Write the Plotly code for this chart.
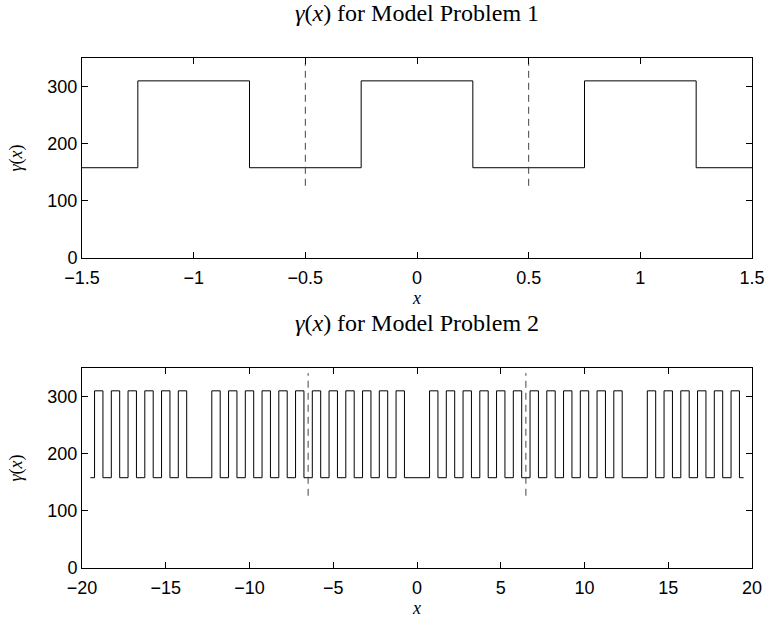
import plotly.graph_objects as go
from plotly.subplots import make_subplots

# ---- data ----
gamma_low = 158
gamma_high = 310

# Model problem 1: step breakpoints and level held from each breakpoint
x1_break = [-1.5, -1.25, -0.75, -0.25, 0.25, 0.75, 1.25, 1.5]
y1_level = [158, 310, 158, 310, 158, 310, 158, 158]
dash1_x = [-0.5, 0.5]

# Model problem 2: centres of the high pulses (width 0.5), domain ends
pulse_centres = [-19, -18, -17, -16, -15, -14,
                 -12, -11, -10, -9, -8, -7, -6, -5, -4, -3, -2, -1,
                 1, 2, 3, 4, 5, 6, 7, 8, 9, 10, 11, 12,
                 14, 15, 16, 17, 18, 19]
pulse_half_width = 0.25
x2_ends = [-19.5, 19.5]
dash2_x = [-6.5, 6.5]
dash_y = [126.4, 341]

x1_ticks = [-1.5, -1, -0.5, 0, 0.5, 1, 1.5]
x1_ticklabels = ["\u22121.5", "\u22121", "\u22120.5", "0", "0.5", "1", "1.5"]
x2_ticks = [-20, -15, -10, -5, 0, 5, 10, 15, 20]
x2_ticklabels = ["\u221220", "\u221215", "\u221210", "\u22125", "0", "5", "10", "15", "20"]
y_ticks = [0, 100, 200, 300]
y_range = [0, 350]

# build step path for problem 2
x2 = [x2_ends[0]]
y2 = [gamma_low]
for c in pulse_centres:
    x2 += [c - pulse_half_width, c + pulse_half_width]
    y2 += [gamma_high, gamma_low]
x2.append(x2_ends[1])
y2.append(gamma_low)

fig = make_subplots(rows=2, cols=1)

fig.add_trace(go.Scatter(x=x1_break, y=y1_level, mode="lines", line_shape="hv",
                         line=dict(color="black", width=1), showlegend=False), row=1, col=1)
for xd in dash1_x:
    fig.add_trace(go.Scatter(x=[xd, xd], y=dash_y, mode="lines",
                             line=dict(color="#444444", width=1, dash="7px,5px"),
                             showlegend=False), row=1, col=1)

fig.add_trace(go.Scatter(x=x2, y=y2, mode="lines", line_shape="hv",
                         line=dict(color="black", width=1), showlegend=False), row=2, col=1)
for xd in dash2_x:
    fig.add_trace(go.Scatter(x=[xd, xd], y=dash_y, mode="lines",
                             line=dict(color="#444444", width=1, dash="7px,5px"),
                             showlegend=False), row=2, col=1)

tickfont = dict(family="Liberation Sans, Arial, sans-serif", size=18, color="black")
axis_common = dict(showline=True, linecolor="black", linewidth=1, mirror="ticks",
                   ticks="inside", ticklen=6, tickcolor="black", showgrid=False,
                   zeroline=False, tickfont=tickfont)

fig.update_xaxes(range=[-1.5, 1.5], tickvals=x1_ticks, ticktext=x1_ticklabels,
                 row=1, col=1, **axis_common)
fig.update_xaxes(range=[-20, 20], tickvals=x2_ticks, ticktext=x2_ticklabels,
                 row=2, col=1, **axis_common)
for r in (1, 2):
    fig.update_yaxes(range=y_range, tickvals=y_ticks, row=r, col=1, **axis_common)
    fig.update_xaxes(ticklabelstandoff=3,
                     title=dict(text="<i>x</i>", standoff=2,
                                font=dict(family="Liberation Serif, serif", size=18, color="black")),
                     row=r, col=1)
    fig.update_yaxes(title=dict(text="<i>\u03b3</i>(<i>x</i>)", standoff=20,
                                font=dict(family="Liberation Serif, serif", size=18, color="black")),
                     row=r, col=1)

top_dom = [0.6078, 1.0]
bot_dom = [0.0, 0.3922]
fig.update_layout(yaxis=dict(domain=top_dom), yaxis2=dict(domain=bot_dom))

titlefont = dict(family="Liberation Serif, serif", size=24, color="black")
fig.add_annotation(text="<i>\u03b3</i>(<i>x</i>) for Model Problem 1", xref="paper", yref="paper",
                   x=0.5, y=top_dom[1], yshift=45, xanchor="center", yanchor="middle",
                   showarrow=False, font=titlefont)
fig.add_annotation(text="<i>\u03b3</i>(<i>x</i>) for Model Problem 2", xref="paper", yref="paper",
                   x=0.5, y=bot_dom[1], yshift=45, xanchor="center", yanchor="middle",
                   showarrow=False, font=titlefont)

fig.update_layout(width=777, height=628, margin=dict(l=82, r=18, t=58, b=60),
                  paper_bgcolor="white", plot_bgcolor="white")

fig.write_html("out.html")
